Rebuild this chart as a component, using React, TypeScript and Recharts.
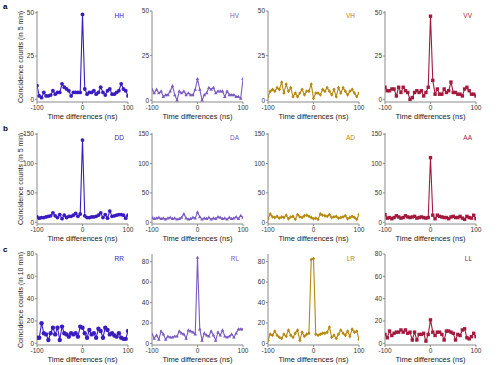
import React from 'react';
import { LineChart, Line, XAxis, YAxis } from 'recharts';

// time bins (ns)
const timeBins = [
  -100, -95, -90, -85, -80, -75, -70, -65, -60, -55, -50, -45, -40, -35, -30, -25, -20, -15, -10, -5,
  0, 5, 10, 15, 20, 25, 30, 35, 40, 45, 50, 55, 60, 65, 70, 75, 80, 85, 90, 95, 100,
];

const xTicks = [-100, 0, 100];

// row a (5 min)
const hh = [8, 2, 1, 4, 2, 2, 2.5, 5, 3, 4, 4, 9, 7, 6, 5, 2, 4, 4, 4, 4, 49, 6, 3, 4, 4, 5, 3, 4, 7, 4, 2.5, 5, 6, 3, 3, 4, 5, 9, 6, 5, 2];
const hv = [6, 4, 6, 4, 5, 2, 3, 3, 5, 8, 3, 0, 5, 4, 5, 3, 4, 3, 3, 6, 12, 6, 0, 3, 4, 7, 6, 7, 4, 5, 5, 5, 2, 5, 3, 3, 3, 2, 2, 1, 12];
const vh = [2, 5, 6, 5, 7, 6, 10, 4, 9, 5, 7, 2, 4, 2, 4, 6, 3, 5, 5, 9, 1, 4, 4, 3, 6, 5, 7, 5, 3, 6, 2, 7, 4, 7, 5, 3, 5, 6, 4, 2, 4];
const vv = [7, 5, 5, 6, 6, 2, 7, 4, 7, 5, 4, 0, 1, 4, 5, 4, 5, 2, 4, 7, 48, 11, 3, 6, 3, 3, 6, 4, 5, 10, 4, 4, 3, 3, 2, 6, 7, 5, 3, 3, 2];

// row b (5 min)
const dd = [9, 7, 8, 8, 9, 10, 11, 16, 11, 8, 13, 6, 12, 8, 10, 10, 12, 15, 10, 14, 140, 11, 8, 8, 9, 9, 10, 12, 16, 8, 13, 7, 19, 10, 11, 12, 13, 13, 12, 7, 12];
const da = [8, 6, 7, 8, 6, 7, 5, 7, 8, 6, 7, 5, 6, 8, 14, 7, 5, 6, 8, 7, 17, 9, 5, 7, 6, 8, 5, 7, 6, 9, 8, 6, 7, 5, 8, 6, 7, 9, 6, 11, 8];
const ad = [6, 14, 9, 8, 10, 7, 9, 8, 12, 6, 9, 10, 5, 13, 9, 8, 11, 12, 10, 8, 6, 7, 5, 14, 12, 11, 10, 13, 8, 9, 10, 7, 8, 9, 11, 6, 8, 10, 8, 5, 13];
const aa = [13, 7, 8, 6, 8, 11, 9, 7, 8, 11, 9, 8, 9, 10, 7, 8, 9, 8, 7, 8, 110, 12, 6, 12, 10, 9, 8, 8, 6, 9, 10, 8, 8, 10, 7, 5, 10, 8, 7, 12, 6];

// row c (10 min)
const rr = [5, 5, 18, 9, 8, 3, 9, 14, 8, 14, 3, 15, 9, 8, 6, 9, 8, 9, 6, 15, 14, 9, 5, 12, 8, 9, 5, 13, 11, 5, 14, 12, 8, 9, 7, 6, 9, 5, 4, 4, 11];
const rl = [9, 5, 8, 4, 12, 9, 4, 7, 6, 6, 7, 7, 12, 10, 9, 5, 13, 12, 11, 9, 84, 14, 3, 10, 8, 7, 12, 8, 3, 11, 8, 13, 7, 6, 7, 9, 6, 10, 14, 14, 14];
const lr = [3, 9, 8, 12, 8, 6, 5, 9, 7, 13, 8, 6, 10, 13, 3, 11, 7, 9, 10, 82, 83, 9, 8, 9, 10, 10, 11, 16, 6, 8, 5, 9, 13, 10, 8, 12, 7, 14, 11, 12, 4];
const ll = [8, 5, 11, 7, 9, 10, 10, 12, 10, 12, 9, 10, 3, 10, 3, 8, 8, 9, 2, 8, 21, 10, 7, 10, 10, 8, 3, 11, 11, 10, 9, 3, 8, 7, 12, 13, 5, 4, 6, 9, 6];

const colours = ['#3b1cc0', '#7a5bc2', '#b5880f', '#a31a3f'];
const shapes = ['circle', 'triangle', 'diamond', 'square'];

const colLeft = [37, 152, 268, 385];
const rowTop = [11, 133, 254];
const PW = 91;
const PH = 91;
const YW = 26;
const XH = 17;
const MT = 3;
const MR = 10;
const MB = 4;

const rows = [
  { letter: 'a', title: 'Coincidence counts (in 5 min)', ticks: [0, 25, 50], names: ['HH', 'HV', 'VH', 'VV'], series: [hh, hv, vh, vv], domains: [[-1.5, 51], [-1, 50], [-1, 50], [-1.5, 51]] },
  { letter: 'b', title: 'Coincidence counts (in 5 min)', ticks: [0, 50, 100, 150], names: ['DD', 'DA', 'AD', 'AA'], series: [dd, da, ad, aa], domains: [[-3, 152], [-3, 152], [-3, 152], [-3, 152]] },
  { letter: 'c', title: 'Coincidence counts (in 10 min)', ticks: [0, 20, 40, 60, 80], names: ['RR', 'RL', 'LR', 'LL'], series: [rr, rl, lr, ll], domains: [[-1.5, 80], [-1.5, 87.5], [-1.5, 87.5], [-1.5, 80]] },
];

const font = '"Liberation Sans", Arial, sans-serif';
const axisGrey = '#8a8a8a';

const makeDot = (shape: string, colour: string, s: number) => (props: any) => {
  const { cx, cy, index } = props;
  if (cx == null || cy == null) return <g key={`d-${index}`} />;
  if (shape === 'circle') return <circle key={`d-${index}`} cx={cx} cy={cy} r={s} fill={colour} />;
  if (shape === 'square') return <rect key={`d-${index}`} x={cx - s} y={cy - s} width={2 * s} height={2 * s} fill={colour} />;
  if (shape === 'triangle')
    return <path key={`d-${index}`} d={`M${cx},${cy - s * 1.2}L${cx + s * 1.1},${cy + s * 0.8}L${cx - s * 1.1},${cy + s * 0.8}Z`} fill={colour} />;
  return <path key={`d-${index}`} d={`M${cx},${cy - s * 1.2}L${cx + s},${cy}L${cx},${cy + s * 1.2}L${cx - s},${cy}Z`} fill={colour} />;
};

function Panel({ r, c }: { r: number; c: number }) {
  const row = rows[r];
  const values = row.series[c];
  const data = timeBins.map((t, i) => ({ t, v: values[i] }));
  const colour = colours[c];
  const size = c === 0 ? (r === 2 ? 2.2 : 1.9) : c === 3 ? 1.7 : 1.6;
  const tickStyle = { fontSize: 6.5, fill: '#333', fontFamily: font };
  return (
    <div style={{ position: 'absolute', left: colLeft[c] - YW, top: rowTop[r] - MT }}>
      <LineChart width={YW + PW + MR} height={MT + PH + XH + MB} data={data} margin={{ top: MT, right: MR, bottom: MB, left: 0 }}>
        <XAxis
          dataKey="t"
          type="number"
          domain={[-100, 100]}
          ticks={xTicks}
          allowDataOverflow
          height={XH}
          tickSize={2}
          tickMargin={1}
          tick={tickStyle}
          axisLine={{ stroke: axisGrey }}
          tickLine={{ stroke: axisGrey }}
          interval={0}
          label={{ value: 'Time differences (ns)', position: 'insideBottom', offset: 0, fontSize: 7.5, fill: '#222', fontFamily: font }}
        />
        <XAxis xAxisId="top" orientation="top" dataKey="t" type="number" domain={[-100, 100]} height={0} tick={false} tickLine={false} axisLine={{ stroke: axisGrey }} />
        <YAxis
          type="number"
          domain={row.domains[c]}
          ticks={row.ticks}
          allowDataOverflow
          width={YW}
          tickSize={2}
          tickMargin={1}
          tick={tickStyle}
          axisLine={{ stroke: axisGrey }}
          tickLine={{ stroke: axisGrey }}
          interval={0}
        />
        <YAxis yAxisId="right" orientation="right" type="number" domain={row.domains[c]} width={0} tick={false} tickLine={false} axisLine={{ stroke: axisGrey }} />
        <Line
          dataKey="v"
          stroke={colour}
          strokeWidth={1.1}
          dot={makeDot(shapes[c], colour, size)}
          activeDot={false}
          isAnimationActive={false}
        />
      </LineChart>
      <div
        style={{
          position: 'absolute',
          right: MR + 4,
          top: MT + 1,
          fontSize: 6.5,
          color: colour,
          fontFamily: font,
        }}
      >
        {row.names[c]}
      </div>
    </div>
  );
}

export default function App() {
  return (
    <div style={{ position: 'absolute', left: 0, top: 0, width: 500, height: 365, background: '#fff', fontFamily: font }}>
      {rows.map((row, r) => (
        <React.Fragment key={row.letter}>
          <div style={{ position: 'absolute', left: 3, top: rowTop[r] - 9, fontSize: 8, fontWeight: 'bold', color: '#000' }}>{row.letter}</div>
          <div
            style={{
              position: 'absolute',
              left: 20,
              top: rowTop[r] + PH / 2,
              transform: 'translate(-50%, -50%) rotate(-90deg)',
              whiteSpace: 'nowrap',
              fontSize: 7,
              color: '#222',
            }}
          >
            {row.title}
          </div>
          {[0, 1, 2, 3].map((c) => (
            <Panel key={c} r={r} c={c} />
          ))}
        </React.Fragment>
      ))}
    </div>
  );
}
